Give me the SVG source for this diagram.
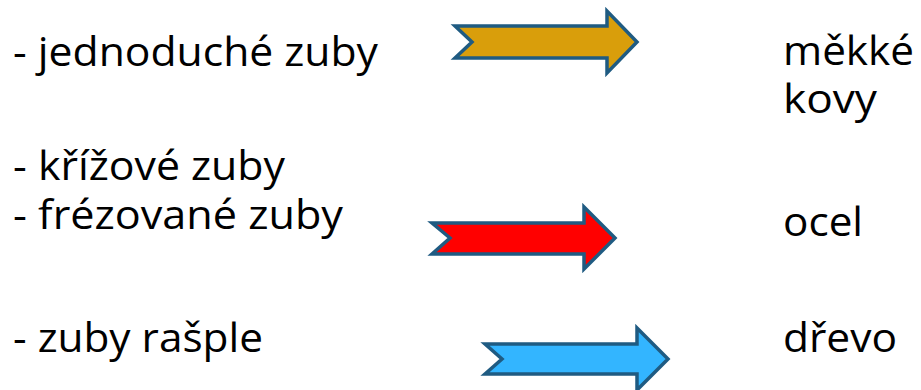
<svg xmlns="http://www.w3.org/2000/svg" width="921" height="390" viewBox="0 0 921 390">
<style>
text{font-family:"Open Sans","Noto Sans",sans-serif;font-size:40px;fill:#000}
.arr{stroke:#1f5b82;stroke-width:3.5;stroke-linejoin:miter}
</style>
<rect width="921" height="390" fill="#fff"/>
<g id="left-jednoduche"><text x="13" y="66" textLength="365" lengthAdjust="spacingAndGlyphs">- jednoduché zuby</text></g>
<g id="left-krizove"><text x="13" y="180" textLength="272" lengthAdjust="spacingAndGlyphs">- křížové zuby</text></g>
<g id="left-frezovane"><text x="13" y="229" textLength="330" lengthAdjust="spacingAndGlyphs">- frézované zuby</text></g>
<g id="left-rasple"><text x="13" y="352" textLength="250" lengthAdjust="spacingAndGlyphs">- zuby rašple</text></g>
<g id="right-mekke"><text x="783" y="65" textLength="131" lengthAdjust="spacingAndGlyphs">měkké</text><text x="783" y="113" textLength="94" lengthAdjust="spacingAndGlyphs">kovy</text></g>
<g id="right-ocel"><text x="783" y="236" textLength="80" lengthAdjust="spacingAndGlyphs">ocel</text></g>
<g id="right-drevo"><text x="783" y="352" textLength="114" lengthAdjust="spacingAndGlyphs">dřevo</text></g>
<g id="connectors">
<path class="arr" fill="#d99e0b" d="M455,26 L607,26 L607,11 L637,42 L607,73 L607,58 L455,58 L472,42 Z"/>
<path class="arr" fill="#ff0000" d="M432,223 L584,223 L584,207 L615,238 L584,269 L584,254 L432,254 L450,238 Z"/>
<path class="arr" fill="#33b5ff" d="M485,344 L637,344 L637,328 L668,359 L637,390 L637,374 L485,374 L502,359 Z"/>
</g>
</svg>
